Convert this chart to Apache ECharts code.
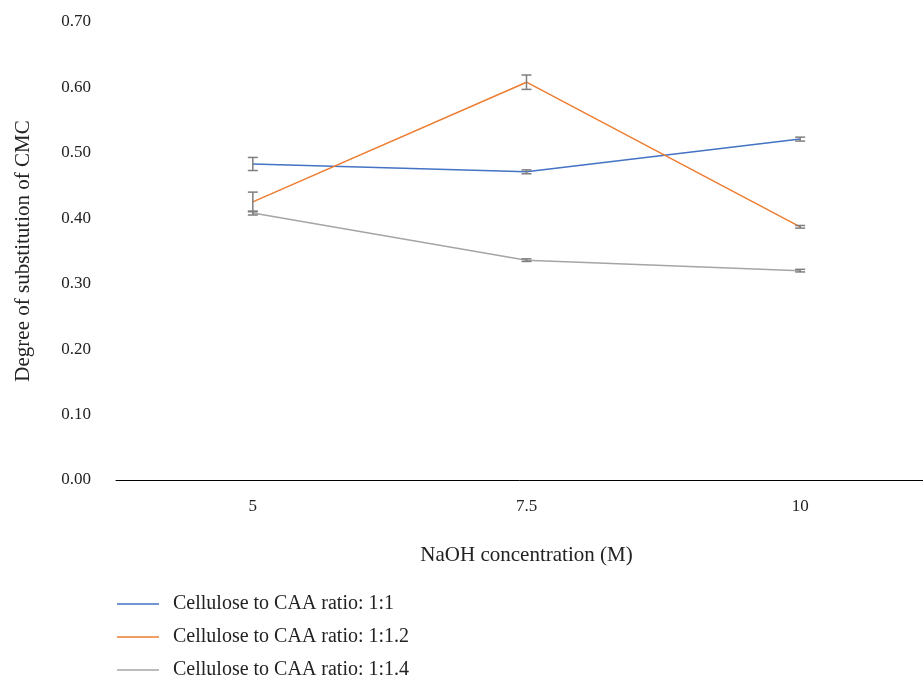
<!DOCTYPE html>
<html>
<head>
<meta charset="utf-8">
<script src="https://cdn.jsdelivr.net/npm/echarts@6/dist/echarts.min.js"></script>
<style>
  html, body { margin: 0; padding: 0; background: #fff; }
  #chart { width: 923px; height: 677px; }
</style>
</head>
<body>
<div id="chart"></div>
<script>
var categories = ['5', '7.5', '10'];
var seriesNames = ['Cellulose to CAA ratio: 1:1', 'Cellulose to CAA ratio: 1:1.2', 'Cellulose to CAA ratio: 1:1.4'];
var ratio11 = [0.483, 0.471, 0.521];
var ratio11Err = [0.010, 0.003, 0.003];
var ratio112 = [0.425, 0.608, 0.387];
var ratio112Err = [0.015, 0.011, 0.002];
var ratio114 = [0.408, 0.336, 0.320];
var ratio114Err = [0.003, 0.002, 0.002];
var yTicks = [0, 0.1, 0.2, 0.3, 0.4, 0.5, 0.6, 0.7];

var colors = ['#4472C4', '#ED7D31', '#A5A5A5'];
var fontFam = '"Liberation Serif", "DejaVu Serif", serif';

function errorSeries(values, errs, name) {
  var data = values.map(function (v, i) { return [i, v - errs[i], v + errs[i]]; });
  return {
    type: 'custom',
    name: name + ' err',
    silent: true,
    z: 3,
    renderItem: function (params, api) {
      var lo = api.coord([api.value(0), api.value(1)]);
      var hi = api.coord([api.value(0), api.value(2)]);
      var w = 5;
      var st = { stroke: '#7F7F7F', lineWidth: 1.5 };
      return {
        type: 'group',
        children: [
          { type: 'line', shape: { x1: hi[0], y1: hi[1], x2: lo[0], y2: lo[1] }, style: st },
          { type: 'line', shape: { x1: hi[0] - w, y1: hi[1], x2: hi[0] + w, y2: hi[1] }, style: st },
          { type: 'line', shape: { x1: lo[0] - w, y1: lo[1], x2: lo[0] + w, y2: lo[1] }, style: st }
        ]
      };
    },
    data: data
  };
}

function lineSeries(values, name, color) {
  return {
    type: 'line',
    name: name,
    data: values,
    symbol: 'none',
    z: 2,
    lineStyle: { color: color, width: 1.5 },
    itemStyle: { color: color }
  };
}

var chart = echarts.init(document.getElementById('chart'));
chart.setOption({
  animation: false,
  textStyle: { fontFamily: fontFam },
  grid: { left: 116, right: -14, top: 22, bottom: 197, outerBoundsMode: 'none', containLabel: false },
  legend: {
    orient: 'vertical',
    left: 112,
    top: 589,
    height: 100,
    itemWidth: 42,
    itemHeight: 1.5,
    itemGap: 13,
    icon: 'rect',
    data: seriesNames,
    textStyle: { fontFamily: fontFam, fontSize: 20, color: '#222', padding: [0, 0, 0, 9] }
  },
  xAxis: {
    type: 'category',
    data: categories,
    boundaryGap: true,
    name: 'NaOH concentration (M)',
    nameLocation: 'middle',
    nameGap: 65,
    nameTextStyle: { fontFamily: fontFam, fontSize: 21, color: '#222' },
    axisLine: { lineStyle: { color: '#000', width: 1 } },
    axisTick: { show: false },
    axisLabel: { fontFamily: fontFam, fontSize: 17, color: '#222', margin: 18 }
  },
  yAxis: {
    type: 'value',
    min: 0,
    max: 0.7,
    interval: 0.1,
    name: 'Degree of substitution of CMC',
    nameLocation: 'middle',
    nameGap: 82,
    nameTextStyle: { fontFamily: fontFam, fontSize: 21, color: '#222' },
    axisLine: { show: false },
    axisTick: { show: false },
    splitLine: { show: false },
    axisLabel: {
      fontFamily: fontFam, fontSize: 17, color: '#222', margin: 25,
      formatter: function (v) { return v.toFixed(2); }
    }
  },
  series: [
    lineSeries(ratio11, seriesNames[0], colors[0]),
    lineSeries(ratio112, seriesNames[1], colors[1]),
    lineSeries(ratio114, seriesNames[2], colors[2]),
    errorSeries(ratio11, ratio11Err, seriesNames[0]),
    errorSeries(ratio112, ratio112Err, seriesNames[1]),
    errorSeries(ratio114, ratio114Err, seriesNames[2])
  ]
});
</script>
</body>
</html>
